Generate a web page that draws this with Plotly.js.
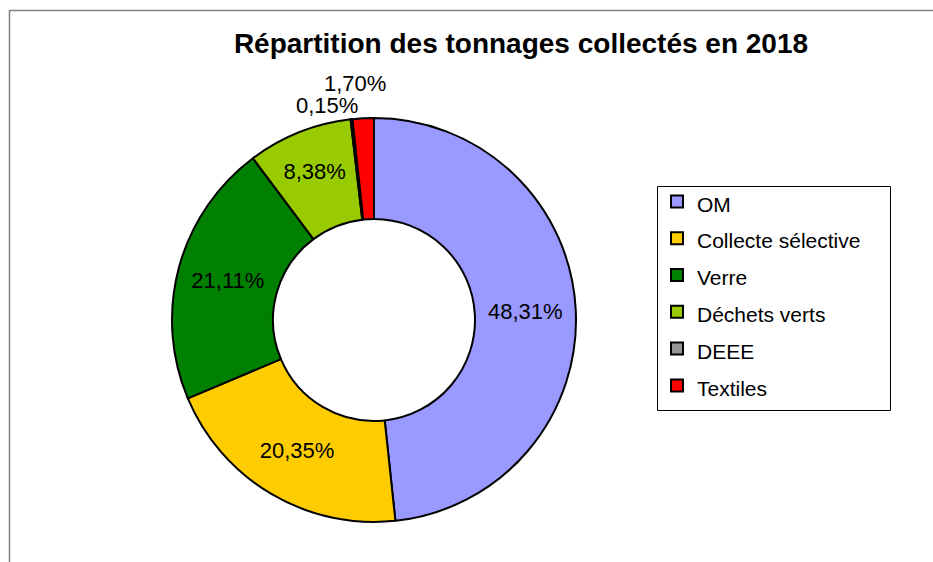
<!DOCTYPE html>
<html>
<head>
<meta charset="utf-8">
<script src="https://cdn.plot.ly/plotly-3.0.1.min.js"></script>
<style>
html, body { margin: 0; padding: 0; background: #fff; }
#chart { width: 933px; height: 562px; }
</style>
</head>
<body>
<div id="chart"></div>
<script>
const categories = ['OM', 'Collecte sélective', 'Verre', 'Déchets verts', 'DEEE', 'Textiles'];
const shares = [48.31, 20.35, 21.11, 8.38, 0.15, 1.70];
const shareLabels = ['48,31%', '20,35%', '21,11%', '8,38%', '0,15%', '1,70%'];
const sliceColors = ['#9999FF', '#FFCC00', '#008000', '#99CC00', '#969696', '#FF0000'];
const titleText = 'Répartition des tonnages collectés en 2018';

const W = 933, H = 562;
const FONT = 'Liberation Sans, Arial, sans-serif';

const cx = 374, cy = 320, R = 202;

const trace = {
  type: 'pie',
  labels: categories.map(c => '<span style="font-size:21px">' + c + '</span>'),
  values: shares,
  text: shareLabels,
  textinfo: 'text',
  textposition: ['inside', 'inside', 'inside', 'inside', 'none', 'none'],
  insidetextorientation: 'horizontal',
  textfont: { family: FONT, size: 22, color: '#000' },
  sort: false,
  direction: 'clockwise',
  rotation: 0,
  hole: 0.5,
  marker: { colors: sliceColors, line: { color: '#000', width: 2 } },
  domain: { x: [(cx - R) / W, (cx + R) / W], y: [1 - (cy + R) / H, 1 - (cy - R) / H] },
  hoverinfo: 'none'
};

const layout = {
  width: W, height: H,
  margin: { l: 0, r: 0, t: 0, b: 0 },
  paper_bgcolor: '#fff',
  font: { family: FONT, color: '#000' },
  title: {
    text: '<b>' + titleText + '</b>',
    font: { family: FONT, size: 28, color: '#000' },
    x: 521 / W, xanchor: 'center',
    y: 1 - 43 / H, yanchor: 'middle'
  },
  showlegend: true,
  legend: {
    x: 657 / W, xanchor: 'left',
    y: 1 - 178 / H, yanchor: 'top',
    borderwidth: 0, bgcolor: 'rgba(0,0,0,0)',
    font: { family: FONT, size: 26, color: '#000' },
    traceorder: 'normal'
  },
  annotations: [
    { text: shareLabels[5], xref: 'paper', yref: 'paper', x: 355 / W, y: 1 - 84 / H, xanchor: 'center', yanchor: 'middle', showarrow: false, font: { family: FONT, size: 22, color: '#000' } },
    { text: shareLabels[4], xref: 'paper', yref: 'paper', x: 327 / W, y: 1 - 106 / H, xanchor: 'center', yanchor: 'middle', showarrow: false, font: { family: FONT, size: 22, color: '#000' } }
  ],
  shapes: [
    { type: 'path', xref: 'paper', yref: 'paper',
      path: 'M ' + (9.5 / W) + ' 0 L ' + (9.5 / W) + ' ' + (1 - 10.5 / H) + ' L 1 ' + (1 - 10.5 / H),
      line: { color: '#808080', width: 1.5 } },
    { type: 'rect', xref: 'paper', yref: 'paper', layer: 'below',
      x0: 657.5 / W, x1: 890.5 / W, y0: 1 - 410.5 / H, y1: 1 - 186.5 / H,
      line: { color: '#000', width: 1 }, fillcolor: '#fff' }
  ]
};

Plotly.newPlot('chart', [trace], layout, { staticPlot: true, displayModeBar: false });
</script>
</body>
</html>
